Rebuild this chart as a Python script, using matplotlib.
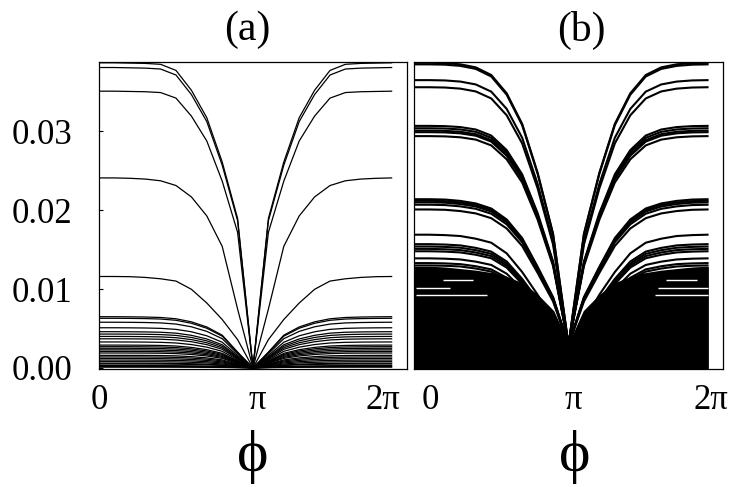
import matplotlib
matplotlib.use("Agg")
import matplotlib.pyplot as plt
import numpy as np

# ---------------- data ----------------
# sampling grid of the curves, in units of pi (20 samples, last one at 1.9 pi)
phi_over_pi = [0.0, 0.1, 0.2, 0.3, 0.4, 0.5, 0.6, 0.7, 0.8, 0.9,
               1.0, 1.1, 1.2, 1.3, 1.4, 1.5, 1.6, 1.7, 1.8, 1.9]

# normalised curve profiles (value / value at phi = 0), panel (a)
a_profile_high = [1.000, 1.000, 0.999, 0.998, 0.995, 0.975, 0.910, 0.820, 0.675, 0.490,
                  0.000, 0.490, 0.675, 0.820, 0.910, 0.975, 0.995, 0.998, 0.999, 1.000]
a_profile_mid = [1.000, 1.000, 0.998, 0.994, 0.985, 0.960, 0.900, 0.800, 0.640, 0.310,
                 0.000, 0.310, 0.640, 0.800, 0.900, 0.960, 0.985, 0.994, 0.998, 1.000]
a_profile_low = [1.000, 1.000, 0.998, 0.990, 0.975, 0.950, 0.860, 0.710, 0.530, 0.310,
                 0.000, 0.310, 0.530, 0.710, 0.860, 0.950, 0.975, 0.990, 0.998, 1.000]

# panel (a): value at phi = 0 of every curve and its profile
a_amplitude = [0.0387, 0.0381, 0.0351, 0.0241, 0.0116,
               0.0065, 0.0063, 0.0058, 0.0051, 0.0046, 0.0043, 0.0040, 0.0037,
               0.0033, 0.0029, 0.0027, 0.0025, 0.0023, 0.0021, 0.0019, 0.0016,
               0.0014, 0.0012, 0.0010, 0.0008, 0.0006, 0.0005, 0.0003, 0.0002, 0.0001]
a_shape = ["high", "high", "high", "mid", "low",
           "mid", "mid", "mid", "mid", "mid", "mid", "mid", "mid",
           "mid", "mid", "mid", "mid", "mid", "mid", "mid", "mid",
           "mid", "mid", "mid", "mid", "mid", "mid", "mid", "mid", "mid"]

# panel (b): normalised profiles (the cusp value is given separately)
b_profile_high = [1.000, 1.000, 0.999, 0.995, 0.985, 0.960, 0.900, 0.800, 0.640, 0.440,
                  None, 0.440, 0.640, 0.800, 0.900, 0.960, 0.985, 0.995, 0.999, 1.000]
b_profile_mid = [1.000, 1.000, 0.998, 0.990, 0.975, 0.945, 0.880, 0.770, 0.600, 0.420,
                 None, 0.420, 0.600, 0.770, 0.880, 0.945, 0.975, 0.990, 0.998, 1.000]
b_profile_low = [1.000, 1.000, 0.997, 0.990, 0.970, 0.940, 0.860, 0.720, 0.550, 0.350,
                 None, 0.350, 0.550, 0.720, 0.860, 0.940, 0.970, 0.990, 0.997, 1.000]
b_cusp_value = 0.0029

b_amplitude = [0.0387, 0.0385, 0.0365, 0.0356,
               0.0307, 0.0304, 0.0301, 0.0299, 0.0294,
               0.0214, 0.0212, 0.0210, 0.0207, 0.0201,
               0.0169, 0.0157, 0.0154, 0.0151, 0.0148, 0.0139, 0.0133, 0.0130]
b_shape = ["high", "high", "high", "high",
           "high", "high", "high", "high", "high",
           "mid", "mid", "mid", "mid", "mid",
           "low", "low", "low", "low", "low", "low", "low", "low"]

# upper edge of the solid black mass of dense curves in panel (b)
b_dense_top = [0.0128, 0.0128, 0.0127, 0.0125, 0.0123, 0.0120, 0.0115, 0.0107, 0.0092, 0.0072,
               0.0029, 0.0072, 0.0092, 0.0107, 0.0115, 0.0120, 0.0123, 0.0125, 0.0127, 0.0128]

# thin white gaps left inside the dense mass of panel (b): value, phi/pi start, phi/pi end
b_gap_value = [0.0111, 0.0102, 0.0092, 0.0111, 0.0101, 0.0092]
b_gap_start = [0.19, 0.01, 0.01, 1.63, 1.58, 1.56]
b_gap_end = [0.38, 0.23, 0.47, 1.83, 1.90, 1.90]

x_tick_labels = ["0", "π", "2π"]
y_tick_values = [0.00, 0.01, 0.02, 0.03]
y_tick_labels = ["0.00", "0.01", "0.02", "0.03"]
panel_titles = ["(a)", "(b)"]
x_label = "ϕ"

# ---------------- drawing ----------------
plt.rcParams["font.family"] = ["Liberation Serif", "DejaVu Serif"]

W, H = 733, 487
fig = plt.figure(figsize=(W / 100, H / 100), dpi=100)
axA = fig.add_axes([99 / W, (H - 369) / H, 308 / W, 307 / H])
axB = fig.add_axes([414 / W, (H - 369) / H, 309 / W, 307 / H])

phi = np.array(phi_over_pi) * np.pi

a_profiles = {"high": a_profile_high, "mid": a_profile_mid, "low": a_profile_low}
for amp, sh in zip(a_amplitude, a_shape):
    y = amp * np.array(a_profiles[sh], dtype=float)
    axA.plot(phi, y, color="black", lw=0.9)

axB.fill_between(phi, 0, b_dense_top, color="black", lw=1.2, edgecolor="black")
for v, s, e in zip(b_gap_value, b_gap_start, b_gap_end):
    axB.plot([s * np.pi, e * np.pi], [v, v], color="white", lw=1.0,
             solid_capstyle="butt")
b_profiles = {"high": b_profile_high, "mid": b_profile_mid, "low": b_profile_low}
for amp, sh in zip(b_amplitude, b_shape):
    prof = b_profiles[sh]
    y = np.array([b_cusp_value if p is None else amp * p for p in prof])
    axB.plot(phi, y, color="black", lw=1.5)

# layout positions of the x tick labels (as placed in the original figure)
a_label_pos = [0.0, 3.22, 5.80]
b_label_pos = [0.33, 3.24, 6.04]

for ax, lpos in ((axA, a_label_pos), (axB, b_label_pos)):
    ax.set_xlim(0, 2 * np.pi)
    ax.set_ylim(-0.00013, 0.0388)
    ax.set_xticks(lpos)
    ax.set_xticklabels(x_tick_labels, fontsize=25)
    ax.tick_params(axis="x", length=0, pad=11)
    for s in ax.spines.values():
        s.set_linewidth(0.9)

axA.set_yticks(y_tick_values)
axA.set_yticklabels(y_tick_labels, fontsize=25)
axA.tick_params(axis="y", direction="in", length=3, width=0.8, pad=19)
axB.set_yticks([])

fig.text(247.5 / W, 1 - 30 / H, panel_titles[0], ha="center", va="center", fontsize=30)
fig.text(581 / W, 1 - 30 / H, panel_titles[1], ha="center", va="center", fontsize=30)
fig.text(253 / W, 1 - 457 / H, x_label, ha="center", va="center", fontsize=43)
fig.text(575 / W, 1 - 457 / H, x_label, ha="center", va="center", fontsize=43)

fig.savefig("out.png", dpi=100)
